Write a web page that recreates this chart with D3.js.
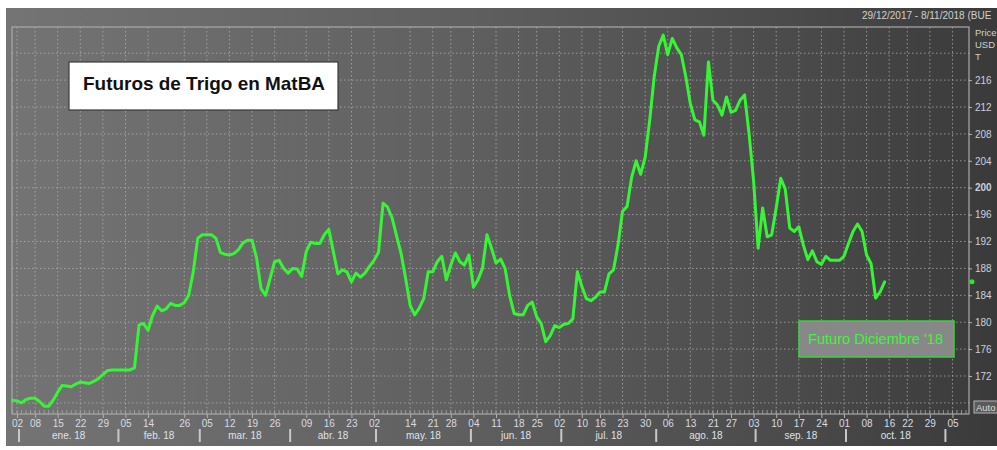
<!DOCTYPE html>
<html>
<head>
<meta charset="utf-8">
<script src="https://cdn.jsdelivr.net/npm/d3@7"></script>
<style>
  body { margin: 0; background: #fff; }
  svg { display: block; font-family: "Liberation Sans", Arial, sans-serif; }
</style>
</head>
<body>
<div id="chart"></div>
<script>
// market holidays (no trading), used to build the trading-day axis
const holidays = ["2018-01-01", "2018-02-12", "2018-02-13", "2018-03-29", "2018-03-30",
  "2018-04-02", "2018-04-30", "2018-05-01", "2018-05-25", "2018-06-20", "2018-07-09",
  "2018-08-20", "2018-10-15"];
const firstDay = "2017-12-29";
const lastDay = "2018-11-08";

// settlement prices, one per trading day (USD/t)
const dec17 = [168.4];
const jan18 = [168.3, 168.0, 168.5, 168.7, 168.7, 168.2, 167.5, 167.5, 168.4, 169.6, 170.6,
  170.5, 170.4, 170.8, 171.1, 171.0, 170.9, 171.2, 171.6, 172.2, 172.8, 172.9];
const feb18 = [172.9, 172.9, 172.9, 172.9, 173.2, 179.6, 179.8, 178.8, 181.0, 182.4, 181.7,
  182.0, 182.8, 182.5, 182.5, 182.9, 184.0, 187.5];
const mar18 = [192.5, 193.0, 193.0, 193.0, 192.5, 190.4, 190.1, 190.0, 190.2, 190.8, 191.8,
  192.2, 192.2, 189.6, 185.0, 184.0, 186.5, 189.0, 189.2, 188.0];
const apr18 = [187.3, 188.0, 187.9, 186.8, 190.5, 191.9, 191.7, 191.7, 193.0, 193.8, 190.5,
  187.2, 187.8, 187.5, 186.0, 187.3, 186.7, 187.3, 188.3];
const may18 = [189.2, 190.4, 197.7, 197.1, 195.5, 192.8, 190.2, 186.5, 182.5, 181.1, 182.1,
  183.5, 187.5, 187.5, 189.0, 189.8, 186.3, 188.5, 190.3, 189.0, 188.5];
const jun18 = [190.0, 185.2, 186.3, 188.0, 193.0, 191.0, 188.8, 189.4, 188.0, 184.0, 181.3,
  181.1, 181.1, 182.5, 183.0, 180.8, 179.8, 177.1, 178.0, 179.5];
const jul18 = [179.2, 179.7, 179.8, 180.5, 187.5, 185.3, 183.5, 183.2, 183.7, 184.5, 184.5,
  187.2, 187.8, 191.5, 196.5, 197.2, 201.5, 204.0, 202.0, 204.5, 210.0];
const aug18 = [216.5, 221.0, 222.7, 219.8, 222.2, 220.8, 219.8, 216.5, 212.5, 210.1, 209.8,
  207.8, 218.7, 213.0, 212.3, 210.8, 213.5, 211.2, 211.5, 213.0, 213.8, 208.0];
const sep18 = [201.0, 191.0, 197.0, 192.7, 193.0, 197.0, 201.4, 199.8, 194.0, 193.5, 194.2,
  191.5, 189.3, 190.6, 189.0, 188.6, 189.8, 189.2, 189.2, 189.2];
const oct18 = [189.8, 191.7, 193.5, 194.6, 193.5, 190.0, 188.7, 183.6, 184.5, 186.0];

// axis labels
const weekTicks = ["2018-01-02", "2018-01-08", "2018-01-15", "2018-01-22", "2018-01-29",
  "2018-02-05", "2018-02-14", "2018-02-26", "2018-03-05", "2018-03-12", "2018-03-19",
  "2018-03-26", "2018-04-09", "2018-04-16", "2018-04-23", "2018-05-02", "2018-05-14",
  "2018-05-21", "2018-05-28", "2018-06-04", "2018-06-11", "2018-06-18", "2018-06-25",
  "2018-07-02", "2018-07-10", "2018-07-16", "2018-07-23", "2018-07-30", "2018-08-06",
  "2018-08-13", "2018-08-21", "2018-08-27", "2018-09-03", "2018-09-10", "2018-09-17",
  "2018-09-24", "2018-10-01", "2018-10-08", "2018-10-16", "2018-10-22", "2018-10-29",
  "2018-11-05"];
const monthNames = ["ene. 18", "feb. 18", "mar. 18", "abr. 18", "may. 18", "jun. 18",
  "jul. 18", "ago. 18", "sep. 18", "oct. 18"];
const yLabels = [172, 176, 180, 184, 188, 192, 196, 200, 204, 208, 212, 216];
const yGrid = [168, 172, 176, 180, 184, 188, 192, 196, 200, 204, 208, 212, 216, 220];

const title = "Futuros de Trigo en MatBA";
const seriesName = "Futuro Diciembre '18";
const rangeText = "29/12/2017 - 8/11/2018 (BUE";
const unitLines = ["Price", "USD", "T"];

const width = 997, height = 450;
const plot = { left: 12, right: 969, top: 27, bottom: 414 };
const lineColor = "#35f535";

const fmt = d3.timeFormat("%Y-%m-%d");
const parse = d3.timeParse("%Y-%m-%d");
const holidaySet = new Set(holidays);
const tradingDays = d3.timeDay
  .range(parse(firstDay), d3.timeDay.offset(parse(lastDay), 1))
  .filter((d) => d.getDay() !== 0 && d.getDay() !== 6 && !holidaySet.has(fmt(d)))
  .map(fmt);

const values = [].concat(dec17, jan18, feb18, mar18, apr18, may18, jun18, jul18, aug18, sep18, oct18);
const data = values.map((value, i) => ({ day: tradingDays[i], value }));

// first trading day of each month
const monthStarts = [];
tradingDays.forEach((d, i) => {
  if (i > 0 && d.slice(0, 7) !== tradingDays[i - 1].slice(0, 7)) monthStarts.push(d);
});
monthStarts.unshift("2018-01-02");
monthStarts.splice(monthStarts.indexOf("2018-01-02", 1), 1);

const x = d3.scalePoint().domain(tradingDays).range([plot.left + 0.5, 966]);
const y = d3.scaleLinear().domain([166.35, 223.9]).range([plot.bottom, plot.top]);

const svg = d3.select("#chart").append("svg")
  .attr("width", width).attr("height", height)
  .attr("viewBox", [0, 0, width, height]);

const defs = svg.append("defs");
const grad = defs.append("linearGradient").attr("id", "bg").attr("x1", 0).attr("x2", 1).attr("y1", 0).attr("y2", 0);
grad.append("stop").attr("offset", "0%").attr("stop-color", "#747474");
grad.append("stop").attr("offset", "45%").attr("stop-color", "#606060");
grad.append("stop").attr("offset", "80%").attr("stop-color", "#4a4a4a");
grad.append("stop").attr("offset", "100%").attr("stop-color", "#3a3a3a");

svg.append("rect").attr("x", 6).attr("y", 8).attr("width", width - 6).attr("height", 438)
  .attr("fill", "url(#bg)");

// header
svg.append("text").attr("x", 862).attr("y", 19).attr("font-size", 10).attr("fill", "#cfcfcf")
  .text(rangeText);

// grid
const grid = svg.append("g").attr("stroke", "#b8b8b8").attr("stroke-opacity", 0.7)
  .attr("stroke-dasharray", "1.5,2.5");
grid.selectAll(".h").data(yGrid).join("line")
  .attr("x1", plot.left).attr("x2", plot.right + 3)
  .attr("y1", (d) => y(d)).attr("y2", (d) => y(d));
grid.selectAll(".v").data(weekTicks).join("line")
  .attr("x1", (d) => x(d)).attr("x2", (d) => x(d))
  .attr("y1", plot.top).attr("y2", plot.bottom);

// minor day ticks along the bottom
svg.append("g").attr("stroke", "#a8a8a8").attr("stroke-opacity", 0.8)
  .selectAll("line").data(tradingDays).join("line")
  .attr("x1", (d) => x(d)).attr("x2", (d) => x(d))
  .attr("y1", plot.bottom - 4).attr("y2", plot.bottom);

// plot frame
svg.append("rect")
  .attr("x", plot.left).attr("y", plot.top)
  .attr("width", plot.right - plot.left).attr("height", plot.bottom - plot.top)
  .attr("fill", "none").attr("stroke", "#a9a9a9").attr("stroke-width", 1.2);

// x axis
const xAxis = svg.append("g").attr("transform", `translate(0,${plot.bottom})`)
  .call(d3.axisBottom(x).tickValues(weekTicks).tickSize(4).tickPadding(2)
    .tickFormat((d) => d.slice(8)));
xAxis.select(".domain").remove();
xAxis.selectAll("line").attr("stroke", "#b0b0b0");
xAxis.selectAll("text").attr("fill", "#d8dbe4").attr("font-size", 10)
  .attr("font-family", "Liberation Sans, Arial, sans-serif");

// month separators and labels
svg.append("g").attr("stroke", "#c8c8c8").attr("stroke-width", 2)
  .selectAll("line").data(monthStarts).join("line")
  .attr("x1", (d) => x(d) + 2).attr("x2", (d) => x(d) + 2)
  .attr("y1", 429).attr("y2", 442);
svg.append("g").selectAll("text").data(monthNames).join("text")
  .attr("x", (d, i) => (x(monthStarts[i]) + x(monthStarts[i + 1])) / 2 + 2)
  .attr("y", 439).attr("text-anchor", "middle")
  .attr("font-size", 10).attr("fill", "#dfe2ea").text((d) => d);

// y axis on the right
const yAxis = svg.append("g").attr("transform", `translate(${plot.right},0)`)
  .call(d3.axisRight(y).tickValues(yLabels).tickSize(3).tickPadding(3));
yAxis.select(".domain").remove();
yAxis.selectAll("line").attr("stroke", "#b0b0b0");
yAxis.selectAll("text").attr("fill", "#c9d0de").attr("font-size", 10)
  .attr("font-family", "Liberation Sans, Arial, sans-serif")
  .attr("font-weight", (d) => (d === 200 ? "bold" : null));

svg.append("g").selectAll("text").data(unitLines).join("text")
  .attr("x", plot.right + 6).attr("y", (d, i) => 36 + i * 12)
  .attr("font-size", 9.5).attr("fill", "#cfcfcf").text((d) => d);

// "Auto" scale button
svg.append("rect").attr("x", plot.right + 5).attr("y", 401).attr("width", 26).attr("height", 12)
  .attr("fill", "#5a5a5a").attr("stroke", "#b5b5b5");
svg.append("text").attr("x", plot.right + 7).attr("y", 411).attr("font-size", 9.5)
  .attr("fill", "#dcdcdc").text("Auto");

// price line
const line = d3.line().x((d) => x(d.day)).y((d) => y(d.value)).curve(d3.curveLinear);
svg.append("path").datum(data)
  .attr("d", line).attr("fill", "none")
  .attr("stroke", lineColor).attr("stroke-width", 3)
  .attr("stroke-linejoin", "round").attr("stroke-linecap", "round");

// last price marker on the axis
svg.append("circle").attr("cx", plot.right + 3).attr("cy", y(values[values.length - 1]))
  .attr("r", 2.5).attr("fill", "#22ee22");

// title box
const tb = svg.append("g");
tb.append("rect").attr("x", 69).attr("y", 62).attr("width", 269).attr("height", 48)
  .attr("fill", "#fff").attr("stroke", "#3a3a3a").attr("stroke-width", 1.2);
tb.append("text").attr("x", 83).attr("y", 90).attr("font-size", 18.5).attr("font-weight", "bold")
  .attr("fill", "#111").attr("textLength", 242).attr("lengthAdjust", "spacingAndGlyphs")
  .text(title);

// series label box
const lb = svg.append("g");
lb.append("rect").attr("x", 799).attr("y", 321).attr("width", 155).attr("height", 36)
  .attr("fill", "#888").attr("stroke", "#3fcf3f").attr("stroke-width", 1.5);
lb.append("text").attr("x", 808).attr("y", 343.5).attr("font-size", 14)
  .attr("fill", "#3df53d").attr("textLength", 135).attr("lengthAdjust", "spacingAndGlyphs")
  .text(seriesName);
</script>
</body>
</html>
